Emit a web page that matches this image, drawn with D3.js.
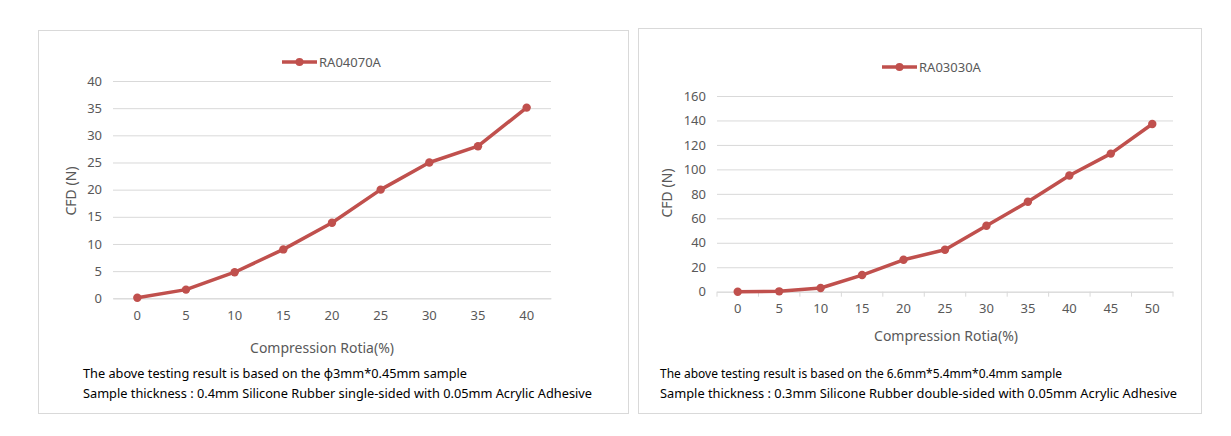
<!DOCTYPE html>
<html>
<head>
<meta charset="utf-8">
<script src="https://cdn.jsdelivr.net/npm/d3@7"></script>
<style>
  body { margin: 0; background: #fff; }
  text { font-family: "Noto Sans", "Open Sans", sans-serif; }
</style>
</head>
<body>
<div id="chart"></div>
<script>
// data
var leftCategories = ["0", "5", "10", "15", "20", "25", "30", "35", "40"];
var leftValues = [0.1, 1.6, 4.8, 9.0, 13.9, 20.0, 25.0, 28.0, 35.1];
var leftTicks = [0, 5, 10, 15, 20, 25, 30, 35, 40];
var leftSeries = "RA04070A";
var leftNotes = ["The above testing result is based on the \u03d53mm*0.45mm sample",
                 "Sample thickness : 0.4mm Silicone Rubber single-sided with 0.05mm Acrylic Adhesive"];

var rightCategories = ["0", "5", "10", "15", "20", "25", "30", "35", "40", "45", "50"];
var rightValues = [0, 0.3, 3.0, 13.6, 26.1, 34.3, 53.9, 73.5, 95.0, 112.9, 137.1];
var rightTicks = [0, 20, 40, 60, 80, 100, 120, 140, 160];
var rightSeries = "RA03030A";
var rightNotes = ["The above testing result is based on the 6.6mm*5.4mm*0.4mm sample",
                  "Sample thickness : 0.3mm Silicone Rubber double-sided with 0.05mm Acrylic Adhesive"];

var lineColor = "#c0504d",
    textGrey = "#595959",
    gridColor = "#d9d9d9";

var svg = d3.select("#chart")
    .append("svg")
    .attr("width", 1231)
    .attr("height", 436);

function drawPanel(cfg) {
    var g = svg.append("g");

    // outer frame
    g.append("rect")
        .attr("x", cfg.box[0]).attr("y", cfg.box[1])
        .attr("width", cfg.box[2]).attr("height", cfg.box[3])
        .attr("fill", "#fff")
        .attr("stroke", gridColor)
        .attr("stroke-width", 1);

    var x = d3.scaleBand()
        .domain(cfg.categories)
        .range([cfg.plot[0], cfg.plot[1]]);

    var y = d3.scaleLinear()
        .domain([0, d3.max(cfg.ticks)])
        .range([cfg.plot[3], cfg.plot[2]]);

    // gridlines + y labels
    var yAxis = g.append("g")
        .attr("transform", "translate(" + cfg.plot[0] + ",0)")
        .call(d3.axisLeft(y).tickValues(cfg.ticks)
            .tickSize(-(cfg.plot[1] - cfg.plot[0])).tickPadding(11));
    yAxis.select(".domain").remove();
    yAxis.selectAll("line").attr("stroke", gridColor);
    yAxis.selectAll("text")
        .style("font-size", "13px")
        .attr("fill", textGrey);

    // x axis
    var xAxis = g.append("g")
        .attr("transform", "translate(0," + cfg.plot[3] + ")")
        .call(d3.axisBottom(x).tickSize(0).tickPadding(12));
    xAxis.select(".domain").attr("stroke", gridColor);
    xAxis.selectAll("text")
        .style("font-size", "13px")
        .attr("fill", textGrey);

    if (cfg.tickMarks) {
        var edges = cfg.categories.map(function (c) { return x(c); })
            .concat([x.range()[1]]);
        g.selectAll(".edge")
            .data(edges)
            .enter().append("line")
            .attr("x1", function (d) { return d; })
            .attr("x2", function (d) { return d; })
            .attr("y1", cfg.plot[3])
            .attr("y2", cfg.plot[3] + 5)
            .attr("stroke", gridColor);
    }

    // axis titles
    g.append("text")
        .attr("x", cfg.xTitle[0]).attr("y", cfg.xTitle[1])
        .attr("text-anchor", "middle")
        .attr("dy", "0.35em")
        .attr("fill", textGrey)
        .style("font-size", "14px")
        .text("Compression Rotia(%)");

    g.append("text")
        .attr("transform", "translate(" + cfg.yTitle[0] + "," + cfg.yTitle[1] + ") rotate(-90)")
        .attr("text-anchor", "middle")
        .attr("dy", "0.35em")
        .attr("fill", textGrey)
        .style("font-size", "14px")
        .text("CFD (N)");

    // the series
    var line = d3.line()
        .x(function (d, i) { return x(cfg.categories[i]) + x.bandwidth() / 2; })
        .y(function (d) { return y(d); });

    g.append("path")
        .datum(cfg.values)
        .attr("fill", "none")
        .attr("stroke", lineColor)
        .attr("stroke-width", 3.5)
        .attr("stroke-linejoin", "round")
        .attr("d", line);

    g.selectAll(".pt")
        .data(cfg.values)
        .enter().append("circle")
        .attr("cx", function (d, i) { return x(cfg.categories[i]) + x.bandwidth() / 2; })
        .attr("cy", function (d) { return y(d); })
        .attr("r", 4.2)
        .attr("fill", lineColor);

    // legend
    g.append("line")
        .attr("x1", cfg.legend[0]).attr("x2", cfg.legend[0] + 35)
        .attr("y1", cfg.legend[1]).attr("y2", cfg.legend[1])
        .attr("stroke", lineColor)
        .attr("stroke-width", 3.5);
    g.append("circle")
        .attr("cx", cfg.legend[0] + 17.5).attr("cy", cfg.legend[1])
        .attr("r", 4).attr("fill", lineColor);
    g.append("text")
        .attr("x", cfg.legend[0] + 37).attr("y", cfg.legend[1])
        .attr("dy", "0.35em")
        .attr("fill", textGrey)
        .style("font-size", "13px")
        .text(cfg.series);

    // notes under the chart
    g.selectAll(".note")
        .data(cfg.notes)
        .enter().append("text")
        .attr("x", cfg.noteX)
        .attr("y", function (d, i) { return 373 + i * 20; })
        .attr("dy", "0.35em")
        .attr("fill", "#000")
        .style("font-size", "13px")
        .attr("textLength", function (d, i) { return cfg.noteLen[i]; })
        .attr("lengthAdjust", "spacingAndGlyphs")
        .text(function (d) { return d; });
}

drawPanel({
    box: [38.5, 30.5, 590, 383],
    plot: [113, 551, 81, 298.3],
    categories: leftCategories,
    values: leftValues,
    ticks: leftTicks,
    series: leftSeries,
    notes: leftNotes,
    noteX: 83,
    noteLen: [384, 509],
    tickMarks: false,
    legend: [282, 62],
    xTitle: [322, 348],
    yTitle: [71, 191]
});

drawPanel({
    box: [638.5, 28.5, 563, 385],
    plot: [717, 1173, 96, 291.7],
    categories: rightCategories,
    values: rightValues,
    ticks: rightTicks,
    series: rightSeries,
    notes: rightNotes,
    noteX: 660,
    noteLen: [402, 517],
    tickMarks: true,
    legend: [882, 67],
    xTitle: [946, 336],
    yTitle: [667, 193]
});
</script>
</body>
</html>
